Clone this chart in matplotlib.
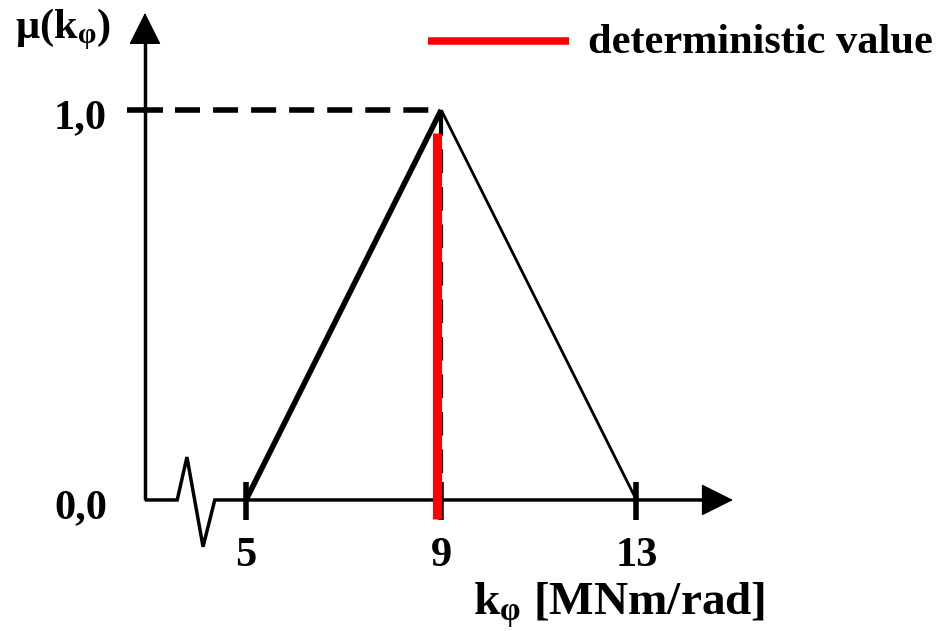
import matplotlib
matplotlib.use("Agg")
import matplotlib.pyplot as plt

plt.rcParams["lines.scale_dashes"] = False
plt.rcParams["mathtext.fontset"] = "custom"
plt.rcParams["mathtext.rm"] = "Liberation Serif:bold"
plt.rcParams["mathtext.bf"] = "Liberation Serif:bold"
plt.rcParams["mathtext.it"] = "Liberation Serif:bold"

# Triangular membership function of the rotational stiffness
support_x = [5, 9, 13]
membership = [0, 1, 0]
deterministic_value = 8.91
deterministic_span = [-0.05, 0.94]

x_ticks = [5, 9, 13]
x_tick_labels = ["5", "9", "13"]
y_ticks = [0, 1]
y_tick_labels = ["0,0", "1,0"]

# axis frame: origin, arrow tips and the break symbol on the abscissa
x_origin = 2.93
x_tip = 14.98
y_tip = 1.249
break_x = [x_origin, 3.59, 3.79, 4.12, 4.36, x_tip - 0.3]
break_y = [0, 0, 0.11, -0.12, 0, 0]

font = "Liberation Serif"
fs = 30.5

fig = plt.figure(figsize=(9.43, 6.31), dpi=100)
ax = fig.add_axes([0, 0, 1, 1])
ax.set_xlim(-0.041, 19.283)
ax.set_ylim(-0.336, 1.282)
ax.axis("off")

# axes with break and arrowheads
ax.plot([x_origin, x_origin], [y_tip - 0.05, 0], color="black", lw=2.5,
        solid_joinstyle="miter", solid_capstyle="butt")
ax.plot(break_x, break_y, color="black", lw=2.5, solid_joinstyle="miter",
        solid_capstyle="butt")
head = dict(arrowstyle="-|>,head_length=0.4,head_width=0.2", color="black",
            lw=1.0, mutation_scale=52, shrinkA=0, shrinkB=0)
ax.annotate("", xy=(x_tip, 0), xytext=(x_tip - 0.8, 0), arrowprops=head)
ax.annotate("", xy=(x_origin, y_tip), xytext=(x_origin, y_tip - 0.12),
            arrowprops=head)

# ticks
tick_half_x = 0.37
for xt in x_ticks:
    ax.plot([xt, xt], [0.046, -0.051], color="black", lw=4.0,
            solid_capstyle="butt")
ax.plot([x_origin - tick_half_x, x_origin + tick_half_x], [1, 1],
        color="black", lw=4.0, solid_capstyle="butt")

# guide lines to the peak
ax.plot([3.545, support_x[1]], [membership[1], membership[1]], color="black",
        lw=4.0, linestyle=(0, (18, 9.4)), dash_capstyle="butt")
ax.plot([support_x[1], support_x[1]], [membership[1] - 0.005, 0],
        color="black", lw=3.0, linestyle=(0, (17, 10)), dash_capstyle="butt")

# membership function: rising edge bold, falling edge thinner
ax.plot(support_x[:2], membership[:2], color="black", lw=4.0,
        solid_capstyle="butt", solid_joinstyle="miter")
ax.plot(support_x[1:], membership[1:], color="black", lw=2.0,
        solid_capstyle="butt", solid_joinstyle="miter")

# deterministic value
ax.plot([deterministic_value, deterministic_value], deterministic_span,
        color="#ff0000", lw=6.5, solid_capstyle="butt")

# legend
ax.plot([8.73, 11.62], [1.178, 1.178], color="#ff0000", lw=5.4,
        solid_capstyle="butt")
ax.text(12.01, 1.146, "deterministic value", fontsize=fs,
        fontfamily=[font], fontweight="bold", ha="left", va="baseline")

# tick labels
for xt, lab in zip(x_ticks, x_tick_labels):
    ax.text(xt, -0.169, lab, fontsize=fs, fontfamily=[font],
            fontweight="bold", ha="center", va="baseline")
for yt, lab in zip(y_ticks, y_tick_labels):
    ax.text(2.15, yt - 0.046, lab, fontsize=fs, fontfamily=[font],
            fontweight="bold", ha="right", va="baseline")

# axis titles
ax.text(0.27, 1.185, r"$\mathbf{μ(k_{φ})}$", fontsize=fs, ha="left",
        va="baseline")
ax.text(12.64, -0.295, r"$\mathbf{k_{φ}}$ [MNm/rad]", fontsize=34,
        fontfamily=[font], fontweight="bold", ha="center", va="baseline")

fig.savefig("out.png", dpi=100)
